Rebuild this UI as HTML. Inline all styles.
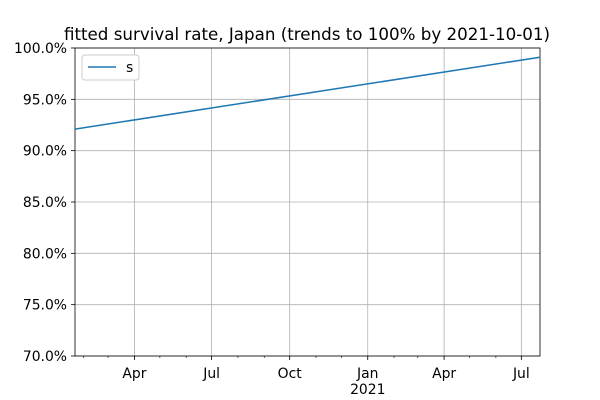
<!DOCTYPE html>
<html><head><meta charset="utf-8">
<style>
body{margin:0;background:#fff;}
svg{display:block;font-family:"DejaVu Sans","Liberation Sans",sans-serif;}
</style></head>
<body>
<svg id="chart" width="600" height="400" xmlns="http://www.w3.org/2000/svg">
<rect width="600" height="400" fill="#fff"/>
<text x="307" y="40" font-size="16.7" text-anchor="middle">fitted survival rate, Japan (trends to 100% by 2021-10-01)</text>
<g id="grid"></g>
<g id="axes"></g>
<g id="series"></g>
<g>
<rect x="82" y="55" width="57" height="25" rx="3" fill="#fff" stroke="#ccc" stroke-width="1"/>
<line x1="88" y1="67" x2="116" y2="67" stroke="#1f77b4" stroke-width="1.5"/>
<text x="126" y="72" font-size="13.9">s</text>
</g>
</svg>
<script>
const seriesDates = ["2020-01-22", "2021-07-23"];
const seriesValues = [92.1, 99.1];
const yTicks = [70, 75, 80, 85, 90, 95, 100];
const xMajorDates = ["2020-04-01", "2020-07-01", "2020-10-01", "2021-01-01", "2021-04-01", "2021-07-01"];
const xMajorLabels = ["Apr", "Jul", "Oct", "Jan", "Apr", "Jul"];

const NS = "http://www.w3.org/2000/svg";
const L = 75, R = 540, T = 48, B = 356;
const d0 = Date.parse("2020-01-22"), d1 = Date.parse("2021-07-23");
const x = d => L + (Date.parse(d) - d0) / (d1 - d0) * (R - L);
const y = v => B - (v - 70) / 30 * (B - T);
function mk(tag, attrs, parent) {
  const e = document.createElementNS(NS, tag);
  for (const k in attrs) e.setAttribute(k, attrs[k]);
  parent.appendChild(e); return e;
}
const grid = document.getElementById('grid'), axes = document.getElementById('axes'), series = document.getElementById('series');
yTicks.forEach(v => {
  const g = mk('line', {x1: L, x2: R, y1: y(v), y2: y(v), stroke: '#b0b0b0', 'stroke-width': 0.8}, grid);
  
  
  mk('line', {x1: L - 4, x2: L, y1: y(v), y2: y(v), stroke: '#000', 'stroke-width': 0.8}, axes);
  const t = mk('text', {x: L - 8, y: y(v) + 5, 'font-size': 13.9, 'text-anchor': 'end'}, axes);
  t.textContent = v.toFixed(1) + '%';
  
  
});
xMajorDates.forEach((d, i) => {
  const g = mk('line', {x1: x(d), x2: x(d), y1: T, y2: B, stroke: '#b0b0b0', 'stroke-width': 0.8}, grid);
  
  
  mk('line', {x1: x(d), x2: x(d), y1: B, y2: B + 4, stroke: '#000', 'stroke-width': 0.8}, axes);
  const t = mk('text', {x: x(d), y: B + 22, 'font-size': 13.9, 'text-anchor': 'middle'}, axes);
  t.textContent = xMajorLabels[i];
  
  
});
const yr = mk('text', {x: x("2021-01-01"), y: B + 38, 'font-size': 13.9, 'text-anchor': 'middle'}, axes);
yr.textContent = '2021';


for (let yy = 2020; yy <= 2021; yy++) for (let m = 1; m <= 12; m++) {
  const ds = yy + '-' + String(m).padStart(2, '0') + '-01';
  const xx = x(ds);
  if (xx < L || xx > R) continue;
  mk('line', {x1: xx, x2: xx, y1: B, y2: B + 2, stroke: '#000', 'stroke-width': 0.6}, axes);
}
const fr = mk('rect', {x: L, y: T, width: R - L, height: B - T, fill: 'none', stroke: '#000', 'stroke-width': 0.8}, axes);


const pts = seriesDates.map((d, i) => x(d) + ',' + y(seriesValues[i])).join(' ');
const ln = mk('polyline', {points: pts, fill: 'none', stroke: '#1f77b4', 'stroke-width': 1.5}, series);


</script>
</body></html>
